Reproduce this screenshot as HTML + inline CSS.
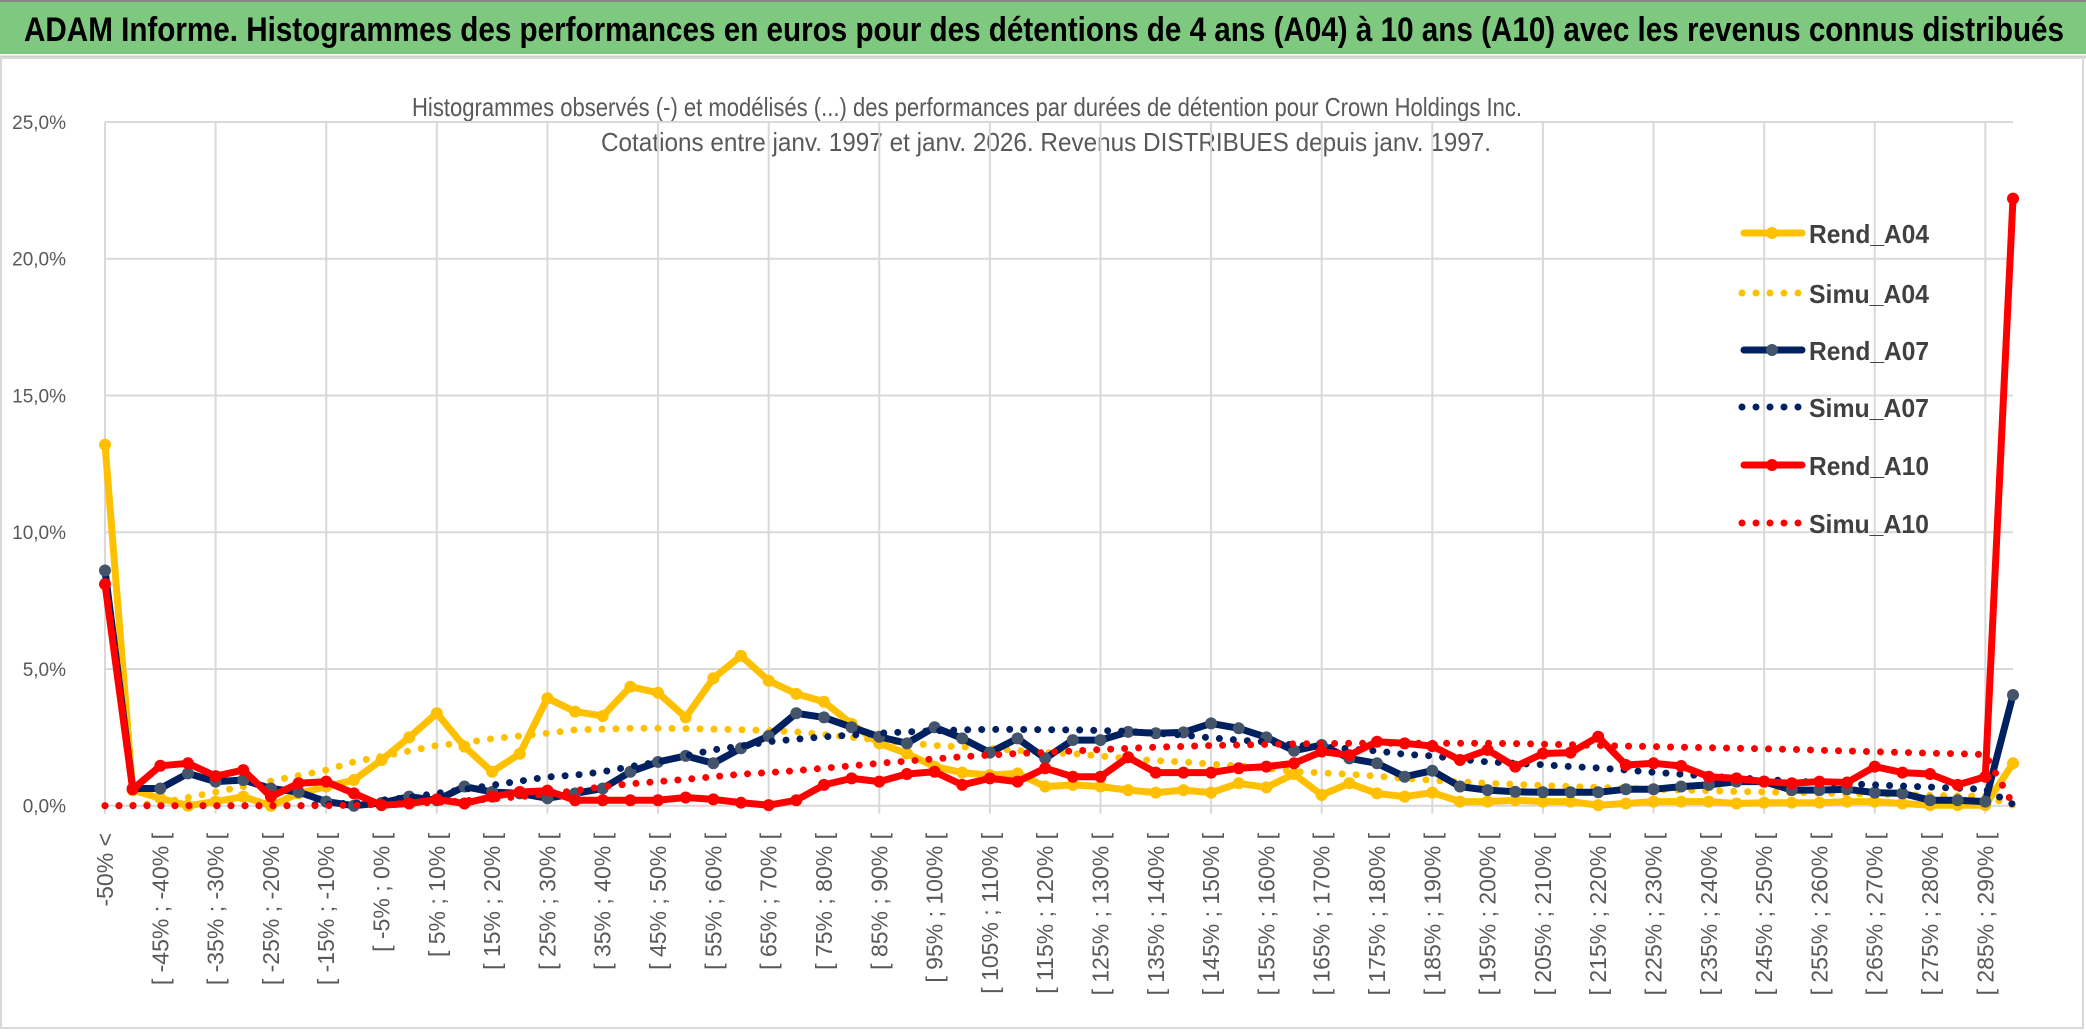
<!DOCTYPE html>
<html><head><meta charset="utf-8">
<style>
html,body{margin:0;padding:0;background:#fff;}
body{width:2086px;height:1033px;overflow:hidden;position:relative;font-family:"Liberation Sans",sans-serif;}
#title-bar{position:absolute;left:0;top:0;width:2086px;height:54px;background:#7ec87f;border-top:2px solid #888;box-sizing:border-box;}
svg{position:absolute;left:0;top:0;}
</style></head>
<body>
<div id="title-bar"></div>
<svg id="chart" width="2086" height="1033">
  <text x="24" y="41" font-size="34" font-weight="bold" fill="#000" textLength="2040" lengthAdjust="spacingAndGlyphs">ADAM Informe. Histogrammes des performances en euros pour des détentions de 4 ans (A04) à 10 ans (A10) avec les revenus connus distribués</text>
  <line x1="0" y1="57" x2="2086" y2="57" stroke="#d0d0d0" stroke-width="3"/>
  <rect x="1" y="58" width="2082" height="970" fill="none" stroke="#d9d9d9" stroke-width="2"/>
  <text x="967" y="116" font-size="26" fill="#595959" text-anchor="middle" textLength="1110" lengthAdjust="spacingAndGlyphs">Histogrammes observés (-) et modélisés (...) des performances par durées de détention pour Crown Holdings Inc.</text>
  <text x="1046" y="151" font-size="26" fill="#595959" text-anchor="middle" textLength="890" lengthAdjust="spacingAndGlyphs">Cotations entre janv. 1997 et janv. 2026. Revenus DISTRIBUES depuis janv. 1997.</text>
  <g id="grid"></g>
  <g id="yaxis"></g>
  <g id="xaxis"></g>
  <g id="series"></g>
  <g id="legend"></g>
</svg>
<script>
const yTicks = [0,5,10,15,20,25];
const yTickLabels = ["0,0%","5,0%","10,0%","15,0%","20,0%","25,0%"];
const rendA04 = [13.2,0.57,0.27,0.0,0.15,0.33,0.0,0.45,0.7,0.94,1.67,2.5,3.38,2.16,1.24,1.9,3.93,3.44,3.28,4.35,4.13,3.23,4.66,5.48,4.57,4.09,3.8,2.99,2.28,1.91,1.43,1.21,1.12,1.18,0.7,0.76,0.7,0.57,0.48,0.57,0.48,0.82,0.67,1.16,0.39,0.82,0.45,0.33,0.48,0.15,0.15,0.2,0.15,0.15,0.02,0.08,0.15,0.15,0.15,0.08,0.11,0.11,0.11,0.15,0.15,0.08,0.02,0.02,0.02,1.55];
const simuA04 = [0,0.02,0.1,0.3,0.5,0.7,0.9,1.1,1.3,1.6,1.8,2.0,2.2,2.3,2.45,2.55,2.65,2.77,2.8,2.83,2.83,2.82,2.8,2.78,2.75,2.7,2.6,2.5,2.4,2.3,2.2,2.15,2.1,2.02,1.95,1.9,1.82,1.72,1.65,1.6,1.52,1.45,1.38,1.25,1.2,1.15,1.08,1.0,0.93,0.87,0.82,0.78,0.74,0.7,0.67,0.64,0.6,0.57,0.55,0.52,0.5,0.48,0.46,0.44,0.42,0.4,0.38,0.36,0.34,0.02];
const rendA07 = [8.6,0.63,0.63,1.18,0.88,0.94,0.63,0.5,0.15,0.0,0.1,0.33,0.2,0.7,0.5,0.45,0.27,0.45,0.63,1.24,1.6,1.82,1.55,2.1,2.55,3.38,3.23,2.87,2.52,2.28,2.87,2.46,1.94,2.46,1.73,2.4,2.4,2.7,2.65,2.68,3.01,2.83,2.5,2.01,2.22,1.73,1.55,1.06,1.28,0.7,0.57,0.51,0.49,0.49,0.49,0.6,0.6,0.7,0.76,0.88,0.88,0.57,0.57,0.6,0.48,0.45,0.2,0.2,0.15,4.05];
const simuA07 = [0,0,0,0,0,0,0,0,0.05,0.1,0.2,0.3,0.45,0.6,0.75,0.9,1.05,1.12,1.24,1.43,1.6,1.82,2.04,2.18,2.34,2.43,2.52,2.58,2.65,2.7,2.74,2.77,2.79,2.79,2.78,2.77,2.75,2.72,2.65,2.58,2.48,2.4,2.33,2.22,2.15,2.08,2.0,1.88,1.82,1.7,1.6,1.55,1.5,1.43,1.38,1.3,1.22,1.15,1.08,1.02,0.96,0.9,0.85,0.8,0.76,0.72,0.68,0.64,0.6,0.05];
const rendA10 = [8.1,0.6,1.46,1.55,1.08,1.3,0.33,0.82,0.88,0.45,0.02,0.08,0.23,0.08,0.33,0.5,0.55,0.2,0.2,0.2,0.2,0.3,0.23,0.11,0.02,0.2,0.76,1.0,0.88,1.16,1.24,0.76,1.0,0.88,1.37,1.06,1.06,1.77,1.21,1.21,1.21,1.37,1.43,1.55,1.98,1.85,2.34,2.28,2.18,1.67,2.04,1.43,1.91,1.94,2.52,1.49,1.55,1.45,1.06,1.0,0.88,0.82,0.88,0.85,1.43,1.21,1.16,0.76,1.06,22.2];
const simuA10 = [0,0,0,0,0,0,0,0,0,0.02,0.05,0.08,0.12,0.18,0.25,0.33,0.42,0.55,0.7,0.8,0.88,0.96,1.06,1.15,1.21,1.28,1.37,1.46,1.55,1.63,1.71,1.79,1.85,1.91,1.95,2.0,2.05,2.1,2.14,2.17,2.2,2.22,2.24,2.26,2.27,2.28,2.28,2.28,2.28,2.28,2.28,2.27,2.25,2.23,2.2,2.18,2.16,2.14,2.12,2.1,2.08,2.06,2.03,2.0,1.97,1.95,1.92,1.9,1.87,0.05];
const seriesNames = ["Rend_A04","Simu_A04","Rend_A07","Simu_A07","Rend_A10","Simu_A10"];

const categories = [];
categories.push("-50% <");
for (let k = 1; k < 70; k++) { const lo = -50 + 5*(k-1); categories.push("[ " + lo + "% ; " + (lo+5) + "% ["); }

const NS = "http://www.w3.org/2000/svg";
const X0 = 105, X1 = 2013, Y0 = 805.7, YTOP = 122, YMAX = 25;
const xs = i => X0 + (X1 - X0) * i / (categories.length - 1);
const ys = v => Y0 - (Y0 - YTOP) * v / YMAX;
function mk(tag, attrs, parent){ const e = document.createElementNS(NS, tag); for (const k in attrs) e.setAttribute(k, attrs[k]); parent.appendChild(e); return e; }

const grid = document.getElementById('grid');
yTicks.forEach((t, i) => {
  const l = mk('line', {x1:X0, x2:X1, y1:ys(t), y2:ys(t), stroke:'#d9d9d9', 'stroke-width':2}, grid);
  
  
  const tx = mk('text', {x:66, y:ys(t)+7, 'font-size':19, fill:'#595959', 'text-anchor':'end'}, document.getElementById('yaxis'));
  tx.textContent = yTickLabels[i];
  
  
});
for (let i = 0; i < categories.length; i += 4) {
  const l = mk('line', {x1:xs(i), x2:xs(i), y1:YTOP, y2:Y0+8, stroke:'#d9d9d9', 'stroke-width':2}, grid);
  
  
}
const xa = document.getElementById('xaxis');
for (let i = 0; i < categories.length; i += 2) {
  const x = xs(i) + 8, y = 833;
  const t = mk('text', {x:x, y:y, 'font-size':23, fill:'#595959', 'text-anchor':'end', transform:'rotate(-90 '+x+' '+y+')'}, xa);
  t.textContent = categories[i];
  
  
}

const styles = [
  {color:'#FFC000', marker:'#FFC000', dotted:false},
  {color:'#FFC000', dotted:true},
  {color:'#002060', marker:'#44546A', dotted:false},
  {color:'#002060', dotted:true},
  {color:'#FF0000', marker:'#FF0000', dotted:false},
  {color:'#FF0000', dotted:true}
];
const allSeries = [rendA04, simuA04, rendA07, simuA07, rendA10, simuA10];
const sg = document.getElementById('series');
allSeries.forEach((data, si) => {
  const st = styles[si];
  const g = mk('g', {}, sg);
  
  
  const d = data.map((v,i) => (i?'L':'M') + xs(i).toFixed(1) + ' ' + ys(v).toFixed(1)).join(' ');
  const p = mk('path', {d:d, fill:'none', stroke:st.color, 'stroke-width':7, 'stroke-linejoin':'round', 'stroke-linecap':'round'}, g);
  if (st.dotted) p.setAttribute('stroke-dasharray', '0 14');
  
  
  if (!st.dotted) {
    data.forEach((v,i) => {
      const c = mk('circle', {cx:xs(i), cy:ys(v), r:6, fill:st.marker}, g);
      
      
    });
  }
});

const lg = document.getElementById('legend');
const legendY = [233, 293, 350, 407, 465, 523];
seriesNames.forEach((n, si) => {
  const st = styles[si], y = legendY[si];
  const g = mk('g', {}, lg);
  
  
  if (st.dotted) {
    mk('line', {x1:1742, x2:1802, y1:y, y2:y, stroke:st.color, 'stroke-width':7, 'stroke-linecap':'round', 'stroke-dasharray':'0 14'}, g);
  } else {
    mk('line', {x1:1744, x2:1802, y1:y, y2:y, stroke:st.color, 'stroke-width':7, 'stroke-linecap':'round'}, g);
    mk('circle', {cx:1772, cy:y, r:6, fill:st.marker}, g);
  }
  const t = mk('text', {x:1809, y:y+10, 'font-size':26, 'font-weight':'bold', fill:'#404040', textLength:120, lengthAdjust:'spacingAndGlyphs'}, g);
  t.textContent = n;
});
</script>
</body></html>
